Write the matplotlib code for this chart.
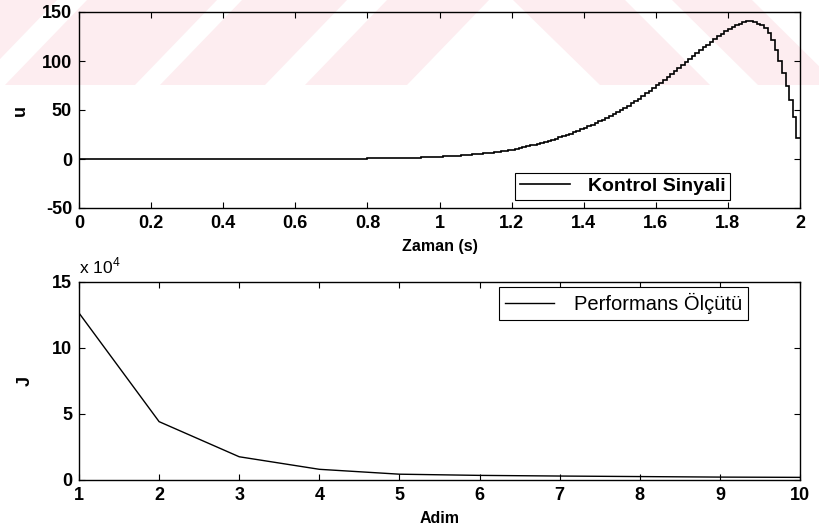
import matplotlib
matplotlib.use("Agg")
import matplotlib.pyplot as plt
import numpy as np
from matplotlib.patches import Polygon
from matplotlib.ticker import FuncFormatter

# control signal u, one value per 0.01 s step (t = 0 .. 1.99)
u_vals = [
    -0.5, -0.5, -0.5, -0.5, -0.5, -0.5, -0.5, -0.5, -0.5, -0.5,
    -0.5, -0.5, -0.5, -0.5, -0.5, -0.5, -0.5, -0.5, -0.5, -0.5,
    -0.5, -0.5, -0.5, -0.5, -0.5, -0.5, -0.5, -0.5, -0.5, -0.5,
    -0.5, -0.5, -0.5, -0.5, -0.5, -0.5, -0.5, -0.5, -0.5, -0.5,
    -0.5, -0.5, -0.5, 0.5, 0.5, 0.5, 0.5, 0.5, 0.5, 0.5,
    0.5, 0.5, 0.5, 0.5, 0.5, 0.5, 0.5, 0.5, 0.5, 0.5,
    0.5, 0.5, 0.5, 0.5, 0.5, 0.5, 0.5, 0.5, 0.5, 0.5,
    0.5, 0.5, 0.5, 0.5, 0.5, 0.5, 0.5, 0.5, 0.5, 0.5,
    0.6, 0.6, 0.7, 0.7, 0.8, 0.8, 0.9, 0.9, 1.0, 1.0,
    1.1, 1.2, 1.3, 1.4, 1.5, 1.6, 1.7, 1.8, 2.0, 2.2,
    2.4, 2.6, 2.8, 3.0, 3.2, 3.4, 3.7, 4.0, 4.3, 4.6,
    5.0, 5.3, 5.7, 6.1, 6.5, 6.9, 7.3, 7.8, 8.3, 8.8,
    9.5, 10.3, 11.1, 12.0, 12.9, 13.8, 14.7, 15.6, 16.5, 17.5,
    18.5, 19.6, 20.8, 22.0, 23.3, 24.6, 26.0, 27.4, 28.9, 30.4,
    32.0, 33.6, 35.2, 36.9, 38.6, 40.3, 42.1, 44.0, 45.9, 47.9,
    50.0, 52.2, 54.4, 56.7, 59.1, 61.6, 64.2, 66.9, 69.6, 72.4,
    75.2, 78.0, 80.9, 83.8, 86.7, 89.6, 92.6, 95.6, 98.6, 101.6,
    104.6, 107.7, 110.8, 113.8, 116.8, 119.7, 122.5, 125.2, 127.8, 130.3,
    132.6, 134.7, 136.6, 138.2, 139.5, 140.4, 140.5, 139.8, 138.2, 136.5,
    134.0, 129.0, 121.0, 111.0, 100.0, 88.0, 75.0, 60.0, 43.0, 21.0,
]
t_edges = np.arange(len(u_vals) + 1) * 0.01

# performance index J per step
adim = [1, 2, 3, 4, 5, 6, 7, 8, 9, 10]
J_vals = [126500, 44200, 17600, 8100, 4400, 3500, 3000, 2600, 2200, 2000]

u_xticks = [0, 0.2, 0.4, 0.6, 0.8, 1, 1.2, 1.4, 1.6, 1.8, 2]
u_yticks = [-50, 0, 50, 100, 150]
J_yticks = [0, 50000, 100000, 150000]

fnt = "Liberation Sans"
plt.rcParams["font.family"] = [fnt, "DejaVu Sans"]
plt.rcParams["font.weight"] = "bold"
plt.rcParams["axes.unicode_minus"] = False

fig = plt.figure(figsize=(8.19, 5.32), dpi=100)
W, H = 819.0, 532.0

# pink watermark stripes at the top of the page (pixel coords, y down)
pink = "#fdedf0"
band = 85
def px(pts):
    return [(x / W, 1 - y / H) for x, y in pts]

for b0, b1 in [(-160, -25), (5, 135), (160, 265), (305, 407)]:
    fig.add_artist(Polygon(px([(b0, band), (b1, band), (b1 + 82, 0), (b0 + 82, 0)]),
                           closed=True, facecolor=pink, edgecolor="none",
                           transform=fig.transFigure, zorder=-5))
for t0, t1, b0, b1 in [(513, 625, 600, 710), (672, 752, 758, 838)]:
    fig.add_artist(Polygon(px([(t0, 0), (t1, 0), (b1, band), (b0, band)]),
                           closed=True, facecolor=pink, edgecolor="none",
                           transform=fig.transFigure, zorder=-5))

ax1 = fig.add_axes([79 / W, 1 - 208 / H, 721 / W, 196 / H])
ax2 = fig.add_axes([79 / W, 1 - 480 / H, 721 / W, 198 / H])

for ax in (ax1, ax2):
    ax.set_facecolor("none")
    ax.tick_params(direction="in", top=True, right=True, length=4, width=0.8,
                   labelsize=13, pad=5)
    for s in ax.spines.values():
        s.set_linewidth(1.0)

# top: control signal
ax1.stairs(u_vals, t_edges, color="k", linewidth=1.2, baseline=None,
           label="Kontrol Sinyali")
ax1.set_xlim(0, 2)
ax1.set_ylim(-50, 150)
ax1.set_xticks(u_xticks)
ax1.set_xticklabels([("%g" % v) for v in u_xticks])
ax1.set_yticks(u_yticks)
ax1.set_xlabel("Zaman (s)", fontsize=11.5, fontweight="bold", labelpad=5)
ax1.set_ylabel("u", fontsize=13, fontweight="bold", labelpad=9)
leg1 = ax1.legend(loc="lower right", bbox_to_anchor=(0.903, 0.04), fancybox=False,
                  framealpha=1, edgecolor="k", fontsize=14, handlelength=2.6,
                  borderpad=0.25, handletextpad=0.9, borderaxespad=0)
leg1.get_frame().set_linewidth(0.8)

# bottom: performance index
ax2.plot(adim, J_vals, color="k", linewidth=1.0, label="Performans Ölçütü")
ax2.set_xlim(1, 10)
ax2.set_ylim(0, 150000)
ax2.set_xticks(adim)
ax2.set_yticks(J_yticks)
ax2.yaxis.set_major_formatter(FuncFormatter(lambda v, p: "%g" % (v / 1e4)))
ax2.set_xlabel("Adim", fontsize=11.5, fontweight="bold", labelpad=5)
ax2.set_ylabel("J", fontsize=13, fontweight="bold", labelpad=13)
ax2.text(0.0, 1.03, "x 10$^{\\mathregular{4}}$", transform=ax2.transAxes,
         fontsize=12.5, fontweight="normal", ha="left", va="bottom")
leg2 = ax2.legend(loc="upper right", bbox_to_anchor=(0.928, 0.975), fancybox=False,
                  framealpha=1, edgecolor="k", handlelength=2.4,
                  borderpad=0.3, handletextpad=1.0, borderaxespad=0,
                  prop={"weight": "normal", "size": 14.5})
leg2.get_frame().set_linewidth(0.8)

fig.savefig("out.png", dpi=100)
